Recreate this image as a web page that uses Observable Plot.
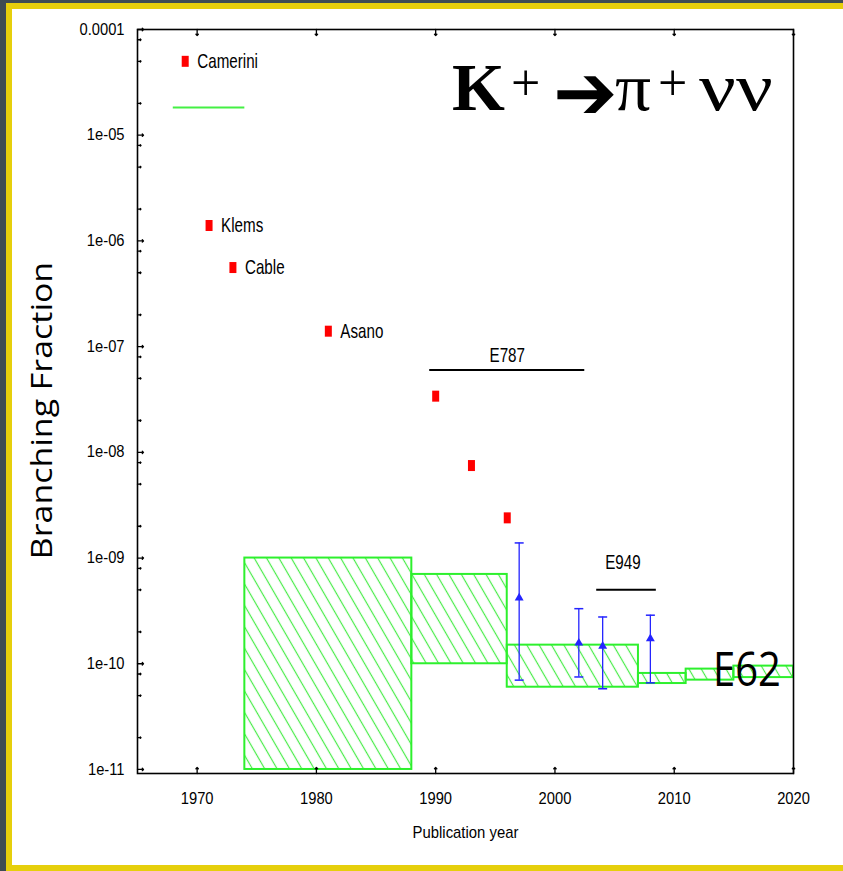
<!DOCTYPE html>
<html><head><meta charset="utf-8">
<script src="https://cdn.jsdelivr.net/npm/d3@7"></script>
<script src="https://cdn.jsdelivr.net/npm/@observablehq/plot@0.6"></script>
<style>
html,body{margin:0;padding:0;}
body{width:843px;height:871px;overflow:hidden;background:#3e4c53;position:relative;}
#border{position:absolute;left:6px;top:3px;width:900px;height:856px;border:6px solid #e6cf0c;background:#fff;}
#chart{position:absolute;left:0;top:0;}
</style></head><body><div id="border"></div><div id="chart"></div>
<script>
// ---- data ----
const limitNames = ["Camerini","Klems","Cable","Asano","","",""];
const limitYears = [1969,1971,1973,1981,1990,1993,1996];
const limitValues = [5e-5,1.4e-6,5.6e-7,1.4e-7,3.4e-8,7.5e-9,2.4e-9];

const boxStart = [1974,1988,1996,2007,2011,2015];
const boxEnd   = [1988,1996,2007,2011,2015,2020];
const boxLow   = [1e-11,1e-10,6e-11,6.5e-11,7e-11,7.4e-11];
const boxHigh  = [1e-9,7e-10,1.5e-10,8.1e-11,8.9e-11,9.5e-11];

const measYears  = [1997,2002,2004,2008];
const measValues = [4.2e-10,1.57e-10,1.47e-10,1.73e-10];
const measHigh   = [1.39e-9,3.32e-10,2.77e-10,2.88e-10];
const measLow    = [7e-11,7.5e-11,5.8e-11,6.6e-11];

const bracketNames = ["E787","E949"];
const bracketStart = [1989.5,2003.5];
const bracketEnd   = [2002.5,2008.5];
const bracketValue = [6e-8,5e-10];
const bracketLabelYear  = [1996,2005.7];
const bracketLabelValue = [8.2e-8,9.1e-10];

const keyLineStart = [1968];
const keyLineEnd = [1974];
const keyLineValue = [1.83e-5];

const bigLabel = ["E62"];
const bigLabelYear = [2016.1];
const bigLabelValue = [8.6e-11];

const yTicks = [1e-4,1e-5,1e-6,1e-7,1e-8,1e-9,1e-10,1e-11];
const yTickLabels = ["0.0001","1e-05","1e-06","1e-07","1e-08","1e-09","1e-10","1e-11"];
const yMinorMultipliers = [2,5,8];
const xTicks = [1970,1980,1990,2000,2010,2020];

// ---- tables ----
const limits = limitYears.map((x,i)=>({x, y:limitValues[i], name:limitNames[i]}));
const boxes = boxStart.map((x1,i)=>({x1, x2:boxEnd[i], y1:boxLow[i], y2:boxHigh[i]}));
const meas = measYears.map((x,i)=>({x, y:measValues[i], lo:measLow[i], hi:measHigh[i]}));
const caps = meas.flatMap(d=>[{x:d.x,y:d.lo},{x:d.x,y:d.hi}]);
const brackets = bracketNames.map((name,i)=>({name, x1:bracketStart[i], x2:bracketEnd[i], y:bracketValue[i], lx:bracketLabelYear[i], ly:bracketLabelValue[i]}));
const keyLine = keyLineStart.map((s,i)=>({x1:s, x2:keyLineEnd[i], y:keyLineValue[i]}));
const big = bigLabel.map((t,i)=>({t, x:bigLabelYear[i], y:bigLabelValue[i]}));
const yMinor = yTicks.slice(1).flatMap(d=>yMinorMultipliers.map(m=>m*d));

const rectSym = {draw(ctx){ ctx.rect(-3.5,-5.5,7,11); }};
const capSym = {draw(ctx){ ctx.moveTo(-4.5,0); ctx.lineTo(4.5,0); }};
const blue = "#2424ff";
const green = "#2df02d";
const sans = "'Liberation Sans', Arial, Helvetica, sans-serif";

const plot = Plot.plot({
  width: 843, height: 871,
  marginLeft: 137, marginRight: 50, marginTop: 29, marginBottom: 98,
  style: {background: "transparent", fontFamily: sans, overflow: "visible", color: "black"},
  x: {domain: [1965, 2020]},
  y: {type: "log", domain: [9.16e-12, 1e-4]},
  marks: [
    Plot.rect(boxes, {x1:"x1", x2:"x2", y1:"y1", y2:"y2", fill:"url(#hatch)", stroke:green, strokeWidth:2}),
    Plot.ruleY(keyLine, {x1:"x1", x2:"x2", y:"y", stroke:"#44f044", strokeWidth:2}),
    Plot.ruleY(brackets, {x1:"x1", x2:"x2", y:"y", stroke:"black", strokeWidth:2}),
    Plot.text(brackets, {x:"lx", y:"ly", text:"name", fontSize:20, fill:"black", className:"narrowlabel"}),
    Plot.dot(limits, {x:"x", y:"y", symbol:rectSym, fill:"#ff0000", r:5}),
    Plot.text(limits, {x:"x", y:"y", text:"name", textAnchor:"start", dx:12, fontSize:20, fill:"black", className:"narrowlabel"}),
    Plot.ruleX(meas, {x:"x", y1:"lo", y2:"hi", stroke:blue, strokeWidth:1.3}),
    Plot.dot(caps, {x:"x", y:"y", symbol:capSym, stroke:blue, strokeWidth:1.5, r:4}),
    Plot.dot(meas, {x:"x", y:"y", symbol:"triangle", fill:blue, r:3.3}),
    Plot.text(big, {x:"x", y:"y", text:"t", fontSize:47, fontWeight:500, fontFamily:"'Open Sans', sans-serif", fill:"black", className:"biglabel"}),
    Plot.frame({stroke:"black", strokeWidth:1.6}),
    Plot.vector(yTicks, {y:d=>d, frameAnchor:"left", length:6, rotate:90, anchor:"start", stroke:"black", strokeWidth:1.3}),
    Plot.vector(yMinor, {y:d=>d, frameAnchor:"left", length:3.5, rotate:90, anchor:"start", stroke:"black", strokeWidth:1.3}),
    Plot.vector(xTicks, {x:d=>d, frameAnchor:"bottom", length:6, rotate:0, anchor:"start", stroke:"black", strokeWidth:1.3}),
    Plot.vector(xTicks, {x:d=>d, frameAnchor:"top", length:6, rotate:180, anchor:"start", stroke:"black", strokeWidth:1.3}),
    Plot.axisY({ticks:yTicks, tickFormat:d=>yTickLabels[yTicks.indexOf(d)], tickSize:0, tickPadding:13, fontSize:16, label:null}),
    Plot.axisX({ticks:xTicks, tickFormat:d=>String(d), tickSize:0, tickPadding:19, fontSize:16, label:null}),
    Plot.text(["Publication year"], {frameAnchor:"bottom", dy:59, lineAnchor:"middle", textAnchor:"middle", fontSize:16, fill:"black", className:"xlabel"}),
    Plot.text(["Branching Fraction"], {frameAnchor:"left", dx:-95, dy:9, rotate:-90, textAnchor:"middle", lineAnchor:"middle", fontSize:29, fontFamily:"'Open Sans', sans-serif", fill:"black", className:"ylabel"})
  ]
});

document.getElementById("chart").append(plot);
const svg = d3.select(plot);
const defs = svg.insert("defs", ":first-child");
const pat = defs.append("pattern").attr("id","hatch").attr("patternUnits","userSpaceOnUse")
  .attr("width",10.7).attr("height",10.7).attr("patternTransform","rotate(-30)");
pat.append("line").attr("x1",5.35).attr("y1",-1).attr("x2",5.35).attr("y2",11.7)
  .attr("stroke","#48ec48").attr("stroke-width",1.2);

// horizontal compression of text glyphs (style only)
function squeeze(selector, f){
  svg.selectAll(selector).each(function(){
    const tr = this.getAttribute("transform");
    if (tr) this.setAttribute("transform", tr + ` scale(${f},1)`);
    else {
      const x = +this.getAttribute("x") || 0, y = +this.getAttribute("y") || 0;
      this.setAttribute("x", 0); this.setAttribute("y", 0);
      this.setAttribute("transform", `translate(${x},${y}) scale(${f},1)`);
    }
  });
}
squeeze('g.narrowlabel text', 0.76);
squeeze('g[aria-label="y-axis tick label"] text', 0.92);
squeeze('g[aria-label="x-axis tick label"] text', 0.92);
squeeze('g.xlabel text', 0.93);
squeeze('g.biglabel text', 0.85);
squeeze('g.ylabel text', 1.17);

// title: K+ → π+ νν
const serif = "'Liberation Serif','Times New Roman',serif";
const title = svg.append("g").attr("text-anchor","start").attr("fill","black").attr("font-family", serif);
const piece = (txt, x, y, size, opts = {}) => {
  const el = title.append("text").attr("transform", `translate(${x},${y})` + (opts.sx ? ` scale(${opts.sx},1)` : ""))
    .attr("font-size", size).text(txt);
  if (opts.bold) el.attr("font-weight","bold");
  if (opts.family) el.attr("font-family", opts.family);
  return el;
};
piece("K", 452, 110, 68, {bold:true});
piece("+", 511, 100, 52);
piece("➔", 553, 119, 77, {family:"'DejaVu Sans',sans-serif", bold:true});
piece("π", 615, 110, 68, {sx:1.05});
piece("+", 658, 100, 52);
piece("νν", 699, 110, 68, {sx:1.2});
</script>
</body></html>
